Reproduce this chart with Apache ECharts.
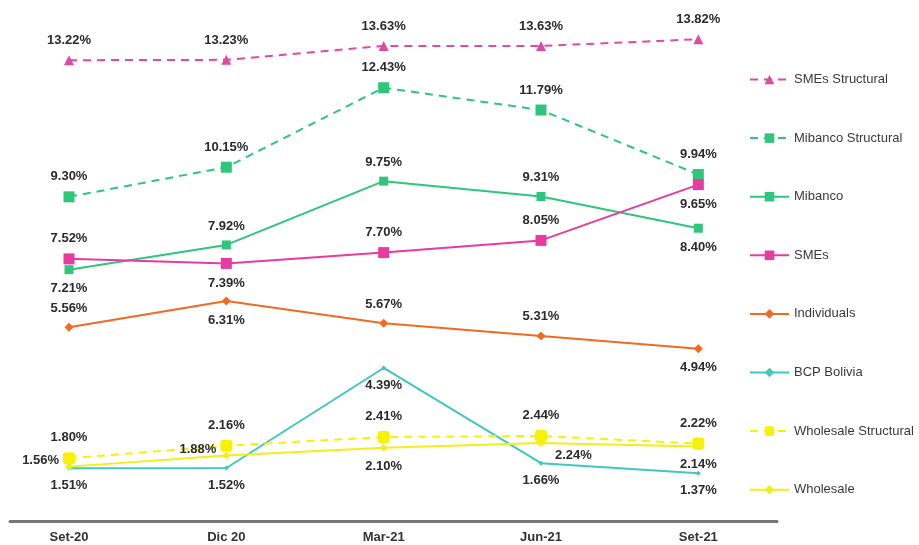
<!DOCTYPE html>
<html>
<head>
<meta charset="utf-8">
<style>
  html, body { margin: 0; padding: 0; background: #fff; }
  #chart { width: 919px; height: 545px; }
</style>
<script src="https://cdn.jsdelivr.net/npm/echarts@6/dist/echarts.min.js"></script>
</head>
<body>
<div id="chart"></div>
<script>
const categories = ['Set-20', 'Dic 20', 'Mar-21', 'Jun-21', 'Set-21'];

const smesStructural = [13.22, 13.23, 13.63, 13.63, 13.82];
const mibancoStructural = [9.30, 10.15, 12.43, 11.79, 9.94];
const mibanco = [7.21, 7.92, 9.75, 9.31, 8.40];
const smes = [7.52, 7.39, 7.70, 8.05, 9.65];
const individuals = [5.56, 6.31, 5.67, 5.31, 4.94];
const bcpBolivia = [1.51, 1.52, 4.39, 1.66, 1.37];
const wholesaleStructural = [1.80, 2.16, 2.41, 2.44, 2.22];
const wholesale = [1.56, 1.88, 2.10, 2.24, 2.14];

// where each value label sits
const labelPlaces = {
    smesStructural: ['top', 'top', 'top', 'top', 'top'],
    mibancoStructural: ['top', 'top', 'top', 'top', 'top'],
    mibanco: ['bottom', 'top', 'top', 'top', 'bottom'],
    smes: ['top', 'bottom', 'top', 'top', 'bottom'],
    individuals: ['top', 'bottom', 'top', 'top', 'bottom'],
    bcpBolivia: ['bottom', 'bottom', 'bottom', 'bottom', 'bottom'],
    wholesaleStructural: ['top', 'top', 'top', 'top', 'top'],
    wholesale: ['left', 'left', 'bottom', 'right', 'bottom']
}

const labelFont = {
    color: '#2b2b2b',
    fontFamily: 'Liberation Sans',
    fontWeight: 'bold',
    fontSize: 13
}

function makeSeries(name, values, places, color, symbol, size, dashed) {
    return {
        name: name,
        type: 'line',
        symbol: symbol,
        symbolSize: size,
        itemStyle: { color: color },
        lineStyle: { color: color, width: 2, type: dashed ? [8, 6] : 'solid' },
        data: values.map(function (v, i) {
            let label = { position: places[i] }
            if (name == 'Wholesale' && places[i] == 'right') {
                label.offset = [2, 13]
            }
            if (name == 'Wholesale' && places[i] == 'left') {
                label.offset = [2, -6]
            }
            return { value: [i, v], label: label }
        }),
        label: Object.assign({
            show: true,
            distance: 8,
            formatter: function (p) {
                return p.value[1].toFixed(2) + '%'
            }
        }, labelFont),
        animation: false
    }
}

const series = [
    makeSeries('SMEs Structural', smesStructural, labelPlaces.smesStructural, '#df4aa5', 'triangle', 10, true),
    makeSeries('Mibanco Structural', mibancoStructural, labelPlaces.mibancoStructural, '#2fc67c', 'rect', 11, true),
    makeSeries('Mibanco', mibanco, labelPlaces.mibanco, '#2fc67c', 'rect', 9, false),
    makeSeries('SMEs', smes, labelPlaces.smes, '#e83a9f', 'rect', 11, false),
    makeSeries('Individuals', individuals, labelPlaces.individuals, '#f26a22', 'diamond', 9, false),
    makeSeries('BCP Bolivia', bcpBolivia, labelPlaces.bcpBolivia, '#3fc7c0', 'diamond', 5, false),
    makeSeries('Wholesale Structural', wholesaleStructural, labelPlaces.wholesaleStructural, '#f7f200', 'roundRect', 12, true),
    makeSeries('Wholesale', wholesale, labelPlaces.wholesale, '#f2ee1a', 'diamond', 8, false)
]
series[6].z = 3

const myChart = echarts.init(document.getElementById('chart'))

const option = {
    backgroundColor: '#ffffff',
    animation: false,
    grid: {
        left: 10,
        right: 142,
        top: 33,
        bottom: 24
    },
    legend: {
        orient: 'vertical',
        left: 749,
        top: 73,
        padding: 0,
        itemWidth: 39,
        itemHeight: 12,
        itemGap: 45.6,
        textStyle: {
            color: '#3a3a3a',
            fontFamily: 'Liberation Sans',
            fontSize: 13
        },
        data: series.map(function (s) { return s.name })
    },
    xAxis: {
        type: 'value',
        min: -0.375,
        max: 4.5,
        splitLine: { show: false },
        axisTick: { show: false },
        axisLine: { show: true, lineStyle: { color: '#777777', width: 3 } },
        axisLabel: {
            customValues: [0, 1, 2, 3, 4],
            margin: 10,
            color: '#333333',
            fontFamily: 'Liberation Sans',
            fontWeight: 'bold',
            fontSize: 13,
            formatter: function (v) {
                return categories[Math.round(v)]
            }
        }
    },
    yAxis: {
        type: 'value',
        min: 0,
        max: 14,
        show: false
    },
    series: series
};

myChart.setOption(option);
</script>
</body>
</html>
